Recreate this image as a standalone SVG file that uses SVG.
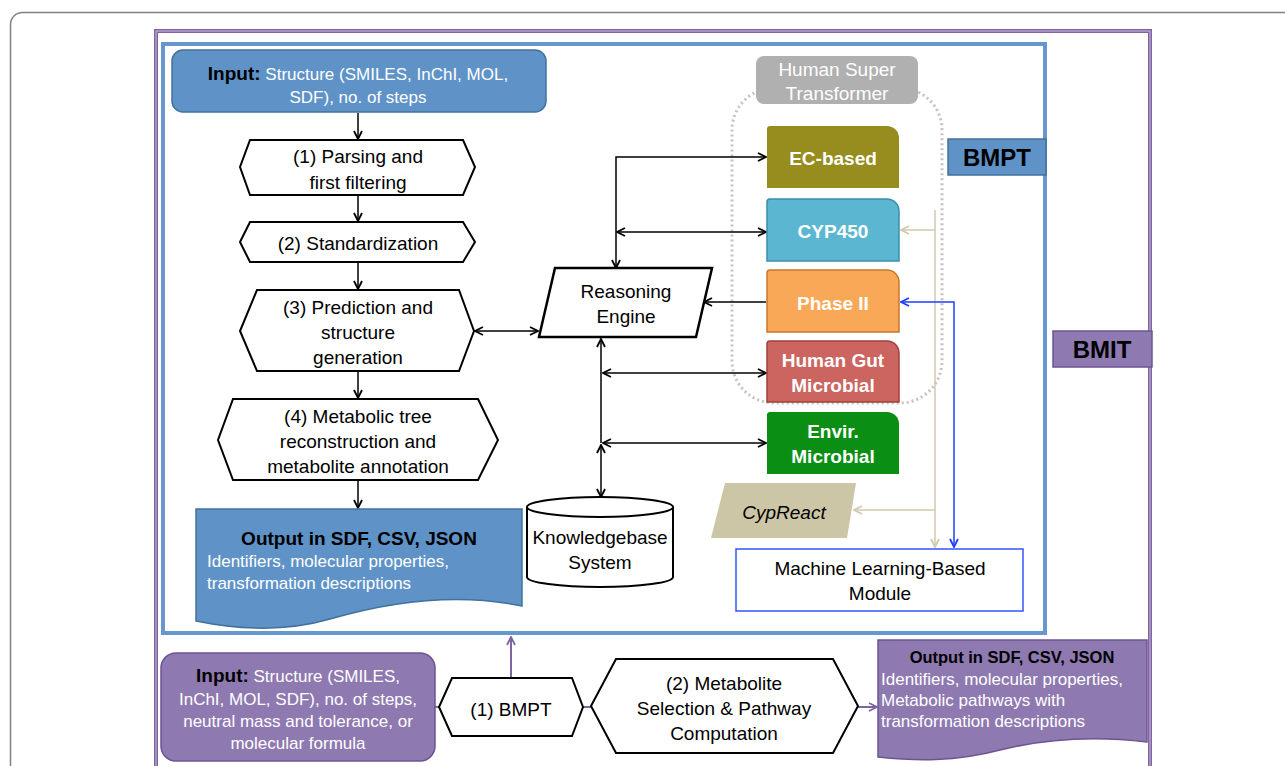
<svg xmlns="http://www.w3.org/2000/svg" width="1285" height="766" viewBox="0 0 1285 766">
<style>
text{font-family:"Liberation Sans",Arial,sans-serif;}
.t{font-size:19px;fill:#000;text-anchor:middle;}
.w{font-size:17px;fill:#fff;}
.wb{font-size:19px;fill:#fff;font-weight:bold;text-anchor:middle;}
.b{font-weight:bold;fill:#000;}
.hex{fill:#fff;stroke:#000;stroke-width:2;}
.k{fill:none;stroke:#000;stroke-width:1.5;}
.bg{fill:none;stroke:#d2c9ab;stroke-width:1.5;}
.bl{fill:none;stroke:#1f3dff;stroke-width:1.5;}
.pu{fill:none;stroke:#8064a2;stroke-width:2;}
</style>
<defs>
<marker id="ak" viewBox="0 0 10 10" refX="9" refY="5" markerWidth="10" markerHeight="10" markerUnits="userSpaceOnUse" orient="auto-start-reverse"><path d="M1,1 L9,5 L1,9" fill="none" stroke="#000" stroke-width="1.8"/></marker>
<marker id="abg" viewBox="0 0 10 10" refX="9" refY="5" markerWidth="10" markerHeight="10" markerUnits="userSpaceOnUse" orient="auto-start-reverse"><path d="M1,1 L9,5 L1,9" fill="none" stroke="#d2c9ab" stroke-width="1.8"/></marker>
<marker id="abl" viewBox="0 0 10 10" refX="9" refY="5" markerWidth="10" markerHeight="10" markerUnits="userSpaceOnUse" orient="auto-start-reverse"><path d="M1,1 L9,5 L1,9" fill="none" stroke="#1f3dff" stroke-width="1.8"/></marker>
<marker id="apu" viewBox="0 0 10 10" refX="9" refY="5" markerWidth="10" markerHeight="10" markerUnits="userSpaceOnUse" orient="auto-start-reverse"><path d="M1,1 L9,5 L1,9" fill="none" stroke="#8064a2" stroke-width="1.8"/></marker>
</defs>
<rect width="1285" height="766" fill="#fff"/>
<g id="frames">
<rect x="10.5" y="12.5" width="1300" height="800" rx="12" fill="none" stroke="#808080" stroke-width="1.5"/>
<rect x="156" y="31" width="994" height="800" fill="none" stroke="#8064a2" stroke-width="4"/>
<rect x="156" y="31" width="994" height="800" fill="none" stroke="#c8bcdb" stroke-width="1"/>
<rect x="163" y="44" width="882" height="589" fill="none" stroke="#6697cf" stroke-width="4"/>
</g>
<g id="hst-container">
<rect x="732" y="88" width="210" height="315" rx="42" fill="none" stroke="#cbc0bf" stroke-width="3" stroke-dasharray="2 3"/>
<rect x="756" y="56" width="162" height="48" rx="8" fill="#b0b0b0"/>
<text class="t" x="837" y="76" style="fill:#fff">Human Super</text>
<text class="t" x="837" y="100" style="fill:#fff">Transformer</text>
</g>
<g id="connectors">
<path class="k" d="M358,113 V139" marker-end="url(#ak)"/>
<path class="k" d="M358,195 V221" marker-end="url(#ak)"/>
<path class="k" d="M358,262 V289" marker-end="url(#ak)"/>
<path class="k" d="M358,371 V398" marker-end="url(#ak)"/>
<path class="k" d="M358,480 V508" marker-end="url(#ak)"/>
<path class="k" d="M475,331 H538" marker-start="url(#ak)" marker-end="url(#ak)"/>
<path class="k" d="M616,268 V157 H766" marker-start="url(#ak)" marker-end="url(#ak)"/>
<path class="k" d="M617,232 H766" marker-start="url(#ak)" marker-end="url(#ak)"/>
<path class="k" d="M766,302 H704" marker-end="url(#ak)"/>
<path class="k" d="M601,443 V339" marker-end="url(#ak)"/>
<path class="k" d="M601,445 V497" marker-start="url(#ak)" marker-end="url(#ak)"/>
<path class="k" d="M603,373 H766" marker-start="url(#ak)" marker-end="url(#ak)"/>
<path class="k" d="M603,443 H766" marker-start="url(#ak)" marker-end="url(#ak)"/>
<path class="bg" d="M935,210 V547" marker-end="url(#abg)"/>
<path class="bg" d="M935,230 H901" marker-end="url(#abg)"/>
<path class="bg" d="M935,510 H854" marker-end="url(#abg)"/>
<path class="bl" d="M954,547 V302 H901" marker-start="url(#abl)" marker-end="url(#abl)"/>
<path class="pu" d="M511,678 V637" marker-end="url(#apu)"/>
<path class="pu" d="M435,707 H440"/>
<path class="pu" d="M583,707 H591"/>
<path class="pu" d="M858,707 H877" marker-end="url(#apu)"/>
</g>
<g id="bmpt-input">
<rect x="172" y="50" width="374" height="62" rx="11" fill="#5f93c8" stroke="#41719c" stroke-width="1.5"/>
<text x="358" y="80" text-anchor="middle"><tspan class="b" font-size="19">Input:</tspan><tspan class="w"> Structure (SMILES, InChI, MOL,</tspan></text>
<text class="w" x="358" y="103" text-anchor="middle">SDF), no. of steps</text>
</g>
<g id="step1">
<path class="hex" d="M250,140 H463 L475,167 L463,195 H250 L240,167 Z"/>
<text class="t" x="358" y="163">(1) Parsing and</text>
<text class="t" x="358" y="189">first filtering</text>
</g>
<g id="step2">
<path class="hex" d="M250,222 H463 L475,242 L463,262 H250 L240,242 Z"/>
<text class="t" x="358" y="250">(2) Standardization</text>
</g>
<g id="step3">
<path class="hex" d="M257,290 H459 L474,331 L459,371 H257 L240,331 Z"/>
<text class="t" x="358" y="314">(3) Prediction and</text>
<text class="t" x="358" y="339">structure</text>
<text class="t" x="358" y="364">generation</text>
</g>
<g id="step4">
<path class="hex" d="M233,399 H478 L498,440 L478,480 H233 L218,440 Z"/>
<text class="t" x="358" y="423">(4) Metabolic tree</text>
<text class="t" x="358" y="448">reconstruction and</text>
<text class="t" x="358" y="473">metabolite annotation</text>
</g>
<g id="bmpt-output">
<path d="M196,509 H522 V606 C455,592 385,603 330,619 C285,632 240,630 196,621 Z" fill="#5f93c8" stroke="#41719c" stroke-width="1.5"/>
<text class="b" x="359" y="545" font-size="19" text-anchor="middle">Output in SDF, CSV, JSON</text>
<text class="w" x="207" y="567">Identifiers, molecular properties,</text>
<text class="w" x="207" y="589">transformation descriptions</text>
</g>
<g id="reasoning-engine">
<path d="M555,268 H712 L696,337 H539 Z" fill="#fff" stroke="#000" stroke-width="2.5"/>
<text class="t" x="626" y="298">Reasoning</text>
<text class="t" x="626" y="323">Engine</text>
</g>
<g id="knowledgebase">
<path d="M527,507 A73,10 0 0 1 673,507 V577 A73,10 0 0 1 527,577 Z" fill="#fff" stroke="#000" stroke-width="2"/>
<path d="M527,507 A73,10 0 0 0 673,507" fill="none" stroke="#000" stroke-width="2"/>
<text class="t" x="600" y="544">Knowledgebase</text>
<text class="t" x="600" y="569">System</text>
</g>
<g id="ec-based">
<path d="M770,126 H887 A12,12 0 0 1 899,138 V188 H767 V129 A3,3 0 0 1 770,126 Z" fill="#978d1f"/>
<text class="wb" x="833" y="165">EC-based</text>
</g>
<g id="cyp450">
<path d="M770,199 H887 A12,12 0 0 1 899,211 V261 H767 V202 A3,3 0 0 1 770,199 Z" fill="#5bb7d1" stroke="#3a8daa" stroke-width="1.5"/>
<text class="wb" x="833" y="238">CYP450</text>
</g>
<g id="phase2">
<path d="M770,270 H887 A12,12 0 0 1 899,282 V332 H767 V273 A3,3 0 0 1 770,270 Z" fill="#f9a857" stroke="#c9772e" stroke-width="1.5"/>
<text class="wb" x="833" y="310">Phase II</text>
</g>
<g id="human-gut">
<path d="M770,341 H887 A12,12 0 0 1 899,353 V402 H767 V344 A3,3 0 0 1 770,341 Z" fill="#cc6560" stroke="#9d3f3b" stroke-width="1.5"/>
<text class="wb" x="833" y="367">Human Gut</text>
<text class="wb" x="833" y="392">Microbial</text>
</g>
<g id="envir">
<path d="M770,412 H887 A12,12 0 0 1 899,424 V474 H767 V415 A3,3 0 0 1 770,412 Z" fill="#0a8f14"/>
<text class="wb" x="833" y="438">Envir.</text>
<text class="wb" x="833" y="463">Microbial</text>
</g>
<g id="cypreact">
<path d="M725,483 H856 L847,538 H711 Z" fill="#cdc6a6"/>
<text class="t" x="784" y="519" font-style="italic">CypReact</text>
</g>
<g id="ml-module">
<rect x="736" y="549" width="287" height="62" fill="#fff" stroke="#3355ff" stroke-width="1.5"/>
<text class="t" x="880" y="575">Machine Learning-Based</text>
<text class="t" x="880" y="600">Module</text>
</g>
<g id="bmpt-label">
<rect x="948" y="139" width="98" height="36" fill="#5f93c8" stroke="#41719c" stroke-width="1.5"/>
<text class="b" x="997" y="166" font-size="24" text-anchor="middle">BMPT</text>
</g>
<g id="bmit-label">
<rect x="1053" y="331" width="99" height="36" fill="#8e79b0" stroke="#6b5591" stroke-width="1.5"/>
<text class="b" x="1102" y="358" font-size="24" text-anchor="middle">BMIT</text>
</g>
<g id="bmit-input">
<rect x="161" y="653" width="274" height="108" rx="15" fill="#8e79b0" stroke="#6b5591" stroke-width="1.5"/>
<text x="298" y="682" text-anchor="middle"><tspan class="b" font-size="19">Input:</tspan><tspan class="w"> Structure (SMILES,</tspan></text>
<text class="w" x="298" y="705" text-anchor="middle">InChI, MOL, SDF), no. of steps,</text>
<text class="w" x="298" y="727" text-anchor="middle">neutral mass and tolerance, or</text>
<text class="w" x="298" y="749" text-anchor="middle">molecular formula</text>
</g>
<g id="bmit-step1">
<path class="hex" d="M452,678 H572 L583,707 L572,736 H452 L439,707 Z"/>
<text class="t" x="511" y="716">(1) BMPT</text>
</g>
<g id="bmit-step2">
<path class="hex" d="M616,659 H833 L858,706 L833,753 H616 L591,706 Z"/>
<text class="t" x="724" y="690">(2) Metabolite</text>
<text class="t" x="724" y="715">Selection &amp; Pathway</text>
<text class="t" x="724" y="740">Computation</text>
</g>
<g id="bmit-output">
<path d="M878,640 H1147 V742 C1090,735 1040,740 1000,750 C955,762 915,761 878,757 Z" fill="#8e79b0" stroke="#6b5591" stroke-width="1.5"/>
<text class="b" x="1012" y="663" font-size="16.5" text-anchor="middle">Output in SDF, CSV, JSON</text>
<text class="w" x="881" y="685" font-size="17.5">Identifiers, molecular properties,</text>
<text class="w" x="881" y="706" font-size="17.5">Metabolic pathways with</text>
<text class="w" x="881" y="727" font-size="17.5">transformation descriptions</text>
</g>
</svg>
